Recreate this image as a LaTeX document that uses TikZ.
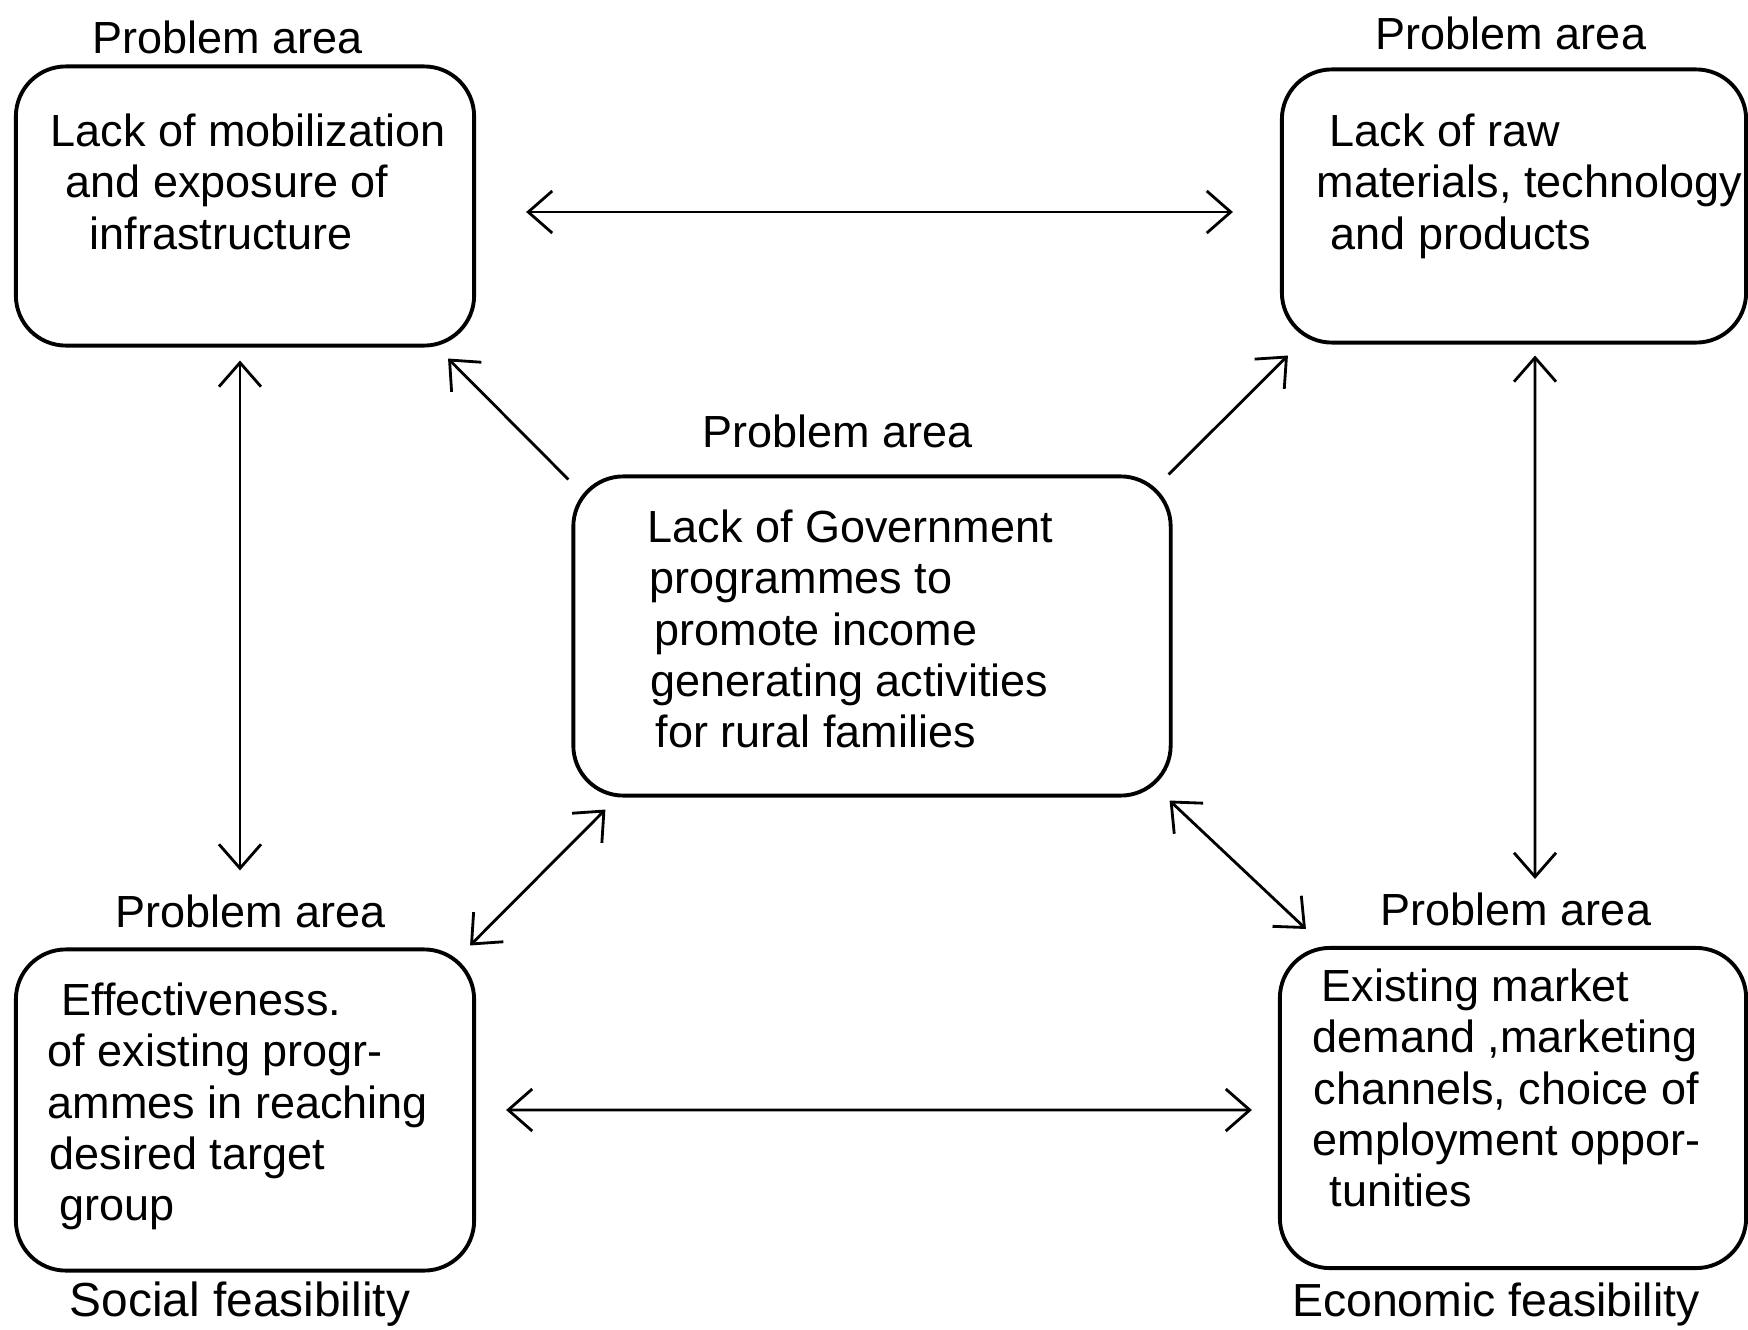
\documentclass[tikz,border=0pt]{standalone}
\usepackage{fontspec}
\setmainfont{Liberation Sans}
\usetikzlibrary{arrows.meta,positioning}
\tikzset{
  pbox/.style ={draw=black,line width=1.1pt,rounded corners=5mm,inner sep=0pt},
  ptxt/.style ={anchor=north west,align=left,inner sep=0pt,
                font=\fontsize{12.8}{14.6}\selectfont},
  plab/.style ={inner sep=0pt,font=\fontsize{12.8}{14.6}\selectfont},
  link/.style ={draw=black,line width=0.8pt},
}

\begin{document}
\begin{tikzpicture}[
  x=0.01cm, y=-0.01cm,
  >={Straight Barb[length=2.4mm,width=4.2mm]},
]
\useasboundingbox (0,0) rectangle (1748,1330);
%% the five boxes
\node[pbox,minimum width=45.8mm,minimum height=27.9mm] (tl)  at ( 245, 206) {};
\node[pbox,minimum width=46.4mm,minimum height=27.3mm] (tr)  at (1514, 206) {};
\node[pbox,minimum width=59.7mm,minimum height=31.9mm] (ctr) at ( 872, 636) {};
\node[pbox,minimum width=45.8mm,minimum height=32.1mm] (bl)  at ( 245,1110) {};
\node[pbox,minimum width=46.6mm,minimum height=32.0mm] (br)  at (1513,1108) {};
%% box texts
\node[ptxt] (tltxt) at (50,113) {Lack of mobilization\\
  \hspace*{1.5mm}and exposure of\\
  \hspace*{3.9mm}infrastructure};
\node[ptxt] (trtxt) at (1316,113) {\hspace*{1.3mm}Lack of raw\\
  materials, technology\\
  \hspace*{1.4mm}and products};
\node[ptxt] (ctrtxt) at (647,509) {Lack of Government\\
  \hspace*{.2mm}programmes to\\
  \hspace*{.7mm}promote income\\
  \hspace*{.3mm}generating activities\\
  \hspace*{.8mm}for rural families};
\node[ptxt] (bltxt) at (47,982) {\hspace*{1.4mm}Effectiveness.\\
  of existing progr-\\
  ammes in reaching\\
  \hspace*{.2mm}desired target\\
  \hspace*{1.2mm}group};
\node[ptxt] (brtxt) at (1312,968) {\hspace*{.9mm}Existing market\\
  demand ,marketing\\
  \hspace*{.1mm}channels, choice of\\
  employment oppor-\\
  \hspace*{1.7mm}tunities};
%% labels
\node[plab] (tllab)  at ( 228,  37) {Problem area};
\node[plab] (trlab)  at (1511,  33) {Problem area};
\node[plab] (ctrlab) at ( 838, 431) {Problem area};
\node[plab] (bllab)  at ( 251, 911) {Problem area};
\node[plab] (brlab)  at (1516, 909) {Problem area};
\node[plab,font=\fontsize{13.6}{15}\selectfont] (soc) at ( 240,1304) {Social feasibility};
\node[plab,font=\fontsize{13.2}{15}\selectfont] (eco) at (1496,1304) {Economic feasibility};
%% links
\draw[link,<->] ([xshift=5mm,yshift=-.6mm]tl.east) -- ([xshift=-4.7mm,yshift=-.6mm]tr.west);
\draw[link,<->] ([xshift=3mm]bl.east) -- ([xshift=-2.6mm,yshift=-.2mm]br.west);
\draw[link,<->] ([xshift=-.5mm,yshift=-1.3mm]tl.south) -- ([xshift=-.5mm,yshift=7.7mm]bl.north);
\draw[link,<->] ([xshift=2.1mm,yshift=-1.1mm]tr.south) -- ([xshift=2.2mm,yshift=6.7mm]br.north);
\draw[link,->]  ([xshift=-.3mm,yshift=-.5mm]ctr.north west) -- ([xshift=-2.8mm,yshift=-1.1mm]tl.south east);
\draw[link,->]  ([xshift=-.4mm]ctr.north east) -- ([xshift=.8mm,yshift=-1.1mm]tr.south west);
\draw[link,<->] ([xshift=-.6mm,yshift=.2mm]bl.north east) -- ([xshift=3.4mm,yshift=-1.2mm]ctr.south west);
\draw[link,<->] ([xshift=-.3mm,yshift=-.3mm]ctr.south east) -- ([xshift=2.8mm,yshift=1.7mm]br.north west);
\end{tikzpicture}
\end{document}
